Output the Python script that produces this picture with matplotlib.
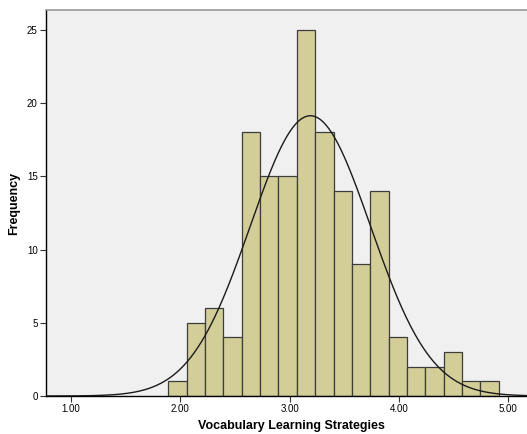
import numpy as np
import matplotlib
matplotlib.use("Agg")
import matplotlib.pyplot as plt

plt.rcParams['font.family'] = ['Liberation Sans', 'DejaVu Sans']

# Data
bin_start = 1.89
bin_width = 0.168
counts = [1, 5, 6, 4, 18, 15, 15, 25, 18, 14, 9, 14, 4, 2, 2, 3, 1, 1]
mean = 3.19
std_dev = 0.55
n_total = sum(counts)
xticks = [1.0, 2.0, 3.0, 4.0, 5.0]
xticklabels = ["1.00", "2.00", "3.00", "4.00", "5.00"]
yticks = [0, 5, 10, 15, 20, 25]

edges = bin_start + bin_width * np.arange(len(counts) + 1)

fig = plt.figure(figsize=(5.27, 4.34), dpi=100)
ax = fig.add_axes([46/527, 38/434, 484/527, 386/434])
ax.set_facecolor('#F0F0F0')

ax.bar(edges[:-1], counts, width=bin_width, align='edge',
       color='#D3CE98', edgecolor='#3C3C3C', linewidth=0.9, zorder=2)

xs = np.linspace(0.7, 5.3, 600)
ys = n_total * bin_width / (std_dev * np.sqrt(2 * np.pi)) * np.exp(-0.5 * ((xs - mean) / std_dev) ** 2)
ax.plot(xs, ys, color='#1A1A1A', linewidth=1.0, zorder=3)

ax.set_xlim(0.771, 0.771 + 484/109.3)
ax.set_ylim(0, 26.35)
ax.set_xticks(xticks)
ax.set_xticklabels(xticklabels)
ax.set_yticks(yticks)
ax.tick_params(axis='both', labelsize=7, length=4, width=0.8, color='#333333', pad=2)

for s in ['top', 'right']:
    ax.spines[s].set_color('#999999')
    ax.spines[s].set_linewidth(1.2)
for s in ['left', 'bottom']:
    ax.spines[s].set_color('#000000')
    ax.spines[s].set_linewidth(1.0)

fig.text(14/527, 1 - 203/434, 'Frequency', rotation=90, fontsize=9,
         fontweight='bold', ha='center', va='center')
fig.text(291/527, 2/434, 'Vocabulary Learning Strategies', fontsize=9,
         fontweight='bold', ha='center', va='bottom')

fig.savefig('out.png', dpi=100)
